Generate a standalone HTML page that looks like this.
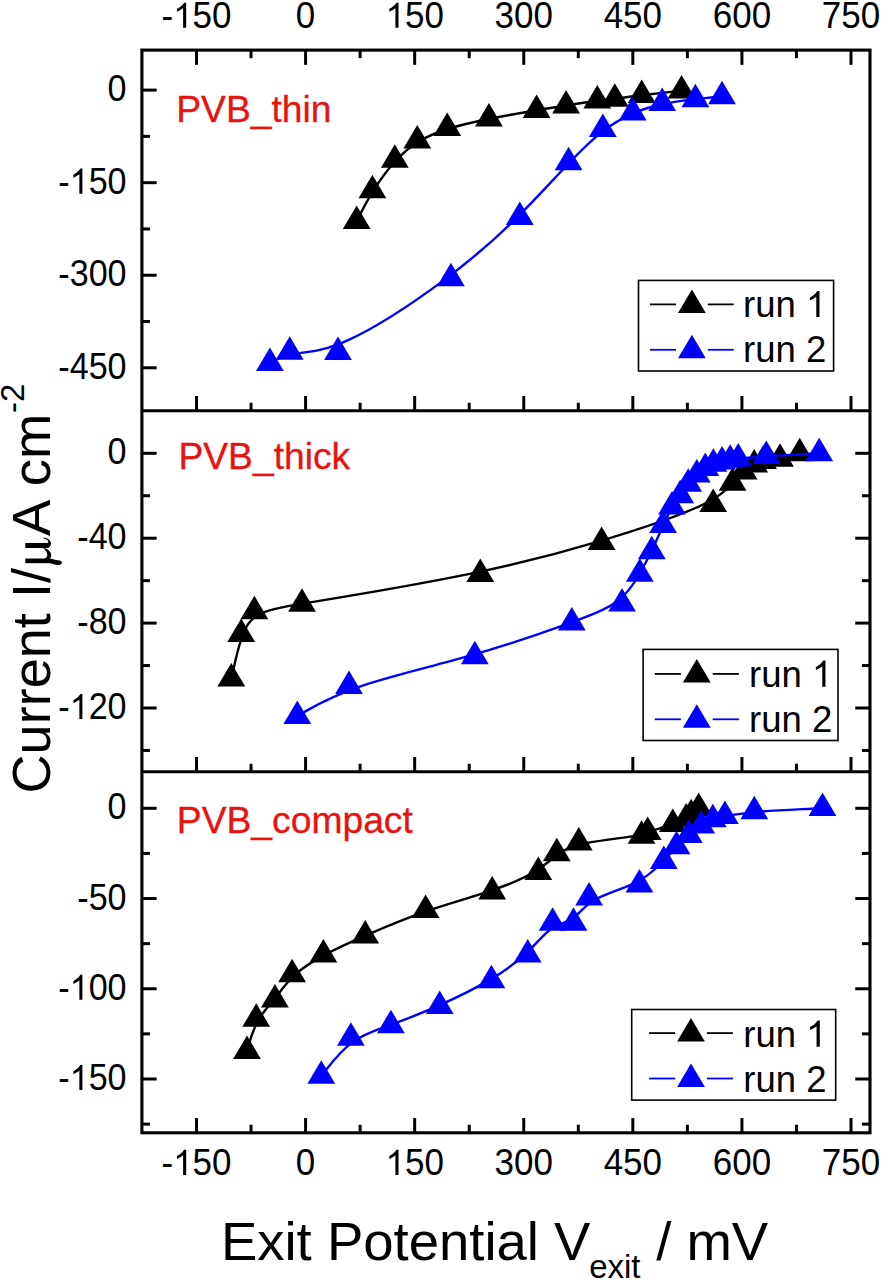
<!DOCTYPE html>
<html>
<head>
<meta charset="utf-8">
<title>Current vs Exit Potential</title>
<style>
html, body { margin: 0; padding: 0; background: #fff; }
body { width: 882px; height: 1280px; overflow: hidden; font-family: "Liberation Sans", sans-serif; }
svg { display: block; }
svg text { font-family: "Liberation Sans", sans-serif; }
</style>
</head>
<body>
<svg width="882" height="1280" viewBox="0 0 882 1280">
<rect x="0" y="0" width="882" height="1280" fill="#fff"/>
<line x1="196.50" y1="50.10" x2="196.50" y2="64.85" stroke="#000" stroke-width="3.0"/>
<line x1="305.58" y1="50.10" x2="305.58" y2="64.85" stroke="#000" stroke-width="3.0"/>
<line x1="414.67" y1="50.10" x2="414.67" y2="64.85" stroke="#000" stroke-width="3.0"/>
<line x1="523.75" y1="50.10" x2="523.75" y2="64.85" stroke="#000" stroke-width="3.0"/>
<line x1="632.83" y1="50.10" x2="632.83" y2="64.85" stroke="#000" stroke-width="3.0"/>
<line x1="741.92" y1="50.10" x2="741.92" y2="64.85" stroke="#000" stroke-width="3.0"/>
<line x1="851.00" y1="50.10" x2="851.00" y2="64.85" stroke="#000" stroke-width="3.0"/>
<line x1="251.04" y1="50.10" x2="251.04" y2="58.15" stroke="#000" stroke-width="3.0"/>
<line x1="360.12" y1="50.10" x2="360.12" y2="58.15" stroke="#000" stroke-width="3.0"/>
<line x1="469.21" y1="50.10" x2="469.21" y2="58.15" stroke="#000" stroke-width="3.0"/>
<line x1="578.29" y1="50.10" x2="578.29" y2="58.15" stroke="#000" stroke-width="3.0"/>
<line x1="687.38" y1="50.10" x2="687.38" y2="58.15" stroke="#000" stroke-width="3.0"/>
<line x1="796.46" y1="50.10" x2="796.46" y2="58.15" stroke="#000" stroke-width="3.0"/>
<line x1="196.50" y1="410.80" x2="196.50" y2="396.05" stroke="#000" stroke-width="3.0"/>
<line x1="305.58" y1="410.80" x2="305.58" y2="396.05" stroke="#000" stroke-width="3.0"/>
<line x1="414.67" y1="410.80" x2="414.67" y2="396.05" stroke="#000" stroke-width="3.0"/>
<line x1="523.75" y1="410.80" x2="523.75" y2="396.05" stroke="#000" stroke-width="3.0"/>
<line x1="632.83" y1="410.80" x2="632.83" y2="396.05" stroke="#000" stroke-width="3.0"/>
<line x1="741.92" y1="410.80" x2="741.92" y2="396.05" stroke="#000" stroke-width="3.0"/>
<line x1="851.00" y1="410.80" x2="851.00" y2="396.05" stroke="#000" stroke-width="3.0"/>
<line x1="251.04" y1="410.80" x2="251.04" y2="402.75" stroke="#000" stroke-width="3.0"/>
<line x1="360.12" y1="410.80" x2="360.12" y2="402.75" stroke="#000" stroke-width="3.0"/>
<line x1="469.21" y1="410.80" x2="469.21" y2="402.75" stroke="#000" stroke-width="3.0"/>
<line x1="578.29" y1="410.80" x2="578.29" y2="402.75" stroke="#000" stroke-width="3.0"/>
<line x1="687.38" y1="410.80" x2="687.38" y2="402.75" stroke="#000" stroke-width="3.0"/>
<line x1="796.46" y1="410.80" x2="796.46" y2="402.75" stroke="#000" stroke-width="3.0"/>
<line x1="196.50" y1="771.80" x2="196.50" y2="757.05" stroke="#000" stroke-width="3.0"/>
<line x1="305.58" y1="771.80" x2="305.58" y2="757.05" stroke="#000" stroke-width="3.0"/>
<line x1="414.67" y1="771.80" x2="414.67" y2="757.05" stroke="#000" stroke-width="3.0"/>
<line x1="523.75" y1="771.80" x2="523.75" y2="757.05" stroke="#000" stroke-width="3.0"/>
<line x1="632.83" y1="771.80" x2="632.83" y2="757.05" stroke="#000" stroke-width="3.0"/>
<line x1="741.92" y1="771.80" x2="741.92" y2="757.05" stroke="#000" stroke-width="3.0"/>
<line x1="851.00" y1="771.80" x2="851.00" y2="757.05" stroke="#000" stroke-width="3.0"/>
<line x1="251.04" y1="771.80" x2="251.04" y2="763.75" stroke="#000" stroke-width="3.0"/>
<line x1="360.12" y1="771.80" x2="360.12" y2="763.75" stroke="#000" stroke-width="3.0"/>
<line x1="469.21" y1="771.80" x2="469.21" y2="763.75" stroke="#000" stroke-width="3.0"/>
<line x1="578.29" y1="771.80" x2="578.29" y2="763.75" stroke="#000" stroke-width="3.0"/>
<line x1="687.38" y1="771.80" x2="687.38" y2="763.75" stroke="#000" stroke-width="3.0"/>
<line x1="796.46" y1="771.80" x2="796.46" y2="763.75" stroke="#000" stroke-width="3.0"/>
<line x1="196.50" y1="1132.80" x2="196.50" y2="1118.05" stroke="#000" stroke-width="3.0"/>
<line x1="305.58" y1="1132.80" x2="305.58" y2="1118.05" stroke="#000" stroke-width="3.0"/>
<line x1="414.67" y1="1132.80" x2="414.67" y2="1118.05" stroke="#000" stroke-width="3.0"/>
<line x1="523.75" y1="1132.80" x2="523.75" y2="1118.05" stroke="#000" stroke-width="3.0"/>
<line x1="632.83" y1="1132.80" x2="632.83" y2="1118.05" stroke="#000" stroke-width="3.0"/>
<line x1="741.92" y1="1132.80" x2="741.92" y2="1118.05" stroke="#000" stroke-width="3.0"/>
<line x1="851.00" y1="1132.80" x2="851.00" y2="1118.05" stroke="#000" stroke-width="3.0"/>
<line x1="251.04" y1="1132.80" x2="251.04" y2="1124.75" stroke="#000" stroke-width="3.0"/>
<line x1="360.12" y1="1132.80" x2="360.12" y2="1124.75" stroke="#000" stroke-width="3.0"/>
<line x1="469.21" y1="1132.80" x2="469.21" y2="1124.75" stroke="#000" stroke-width="3.0"/>
<line x1="578.29" y1="1132.80" x2="578.29" y2="1124.75" stroke="#000" stroke-width="3.0"/>
<line x1="687.38" y1="1132.80" x2="687.38" y2="1124.75" stroke="#000" stroke-width="3.0"/>
<line x1="796.46" y1="1132.80" x2="796.46" y2="1124.75" stroke="#000" stroke-width="3.0"/>
<line x1="141.90" y1="90.10" x2="156.65" y2="90.10" stroke="#000" stroke-width="3.0"/>
<g transform="translate(126.60 101.10) scale(0.975 1)"><text transform="translate(-19.47 0) scale(1 1.04)" font-size="35" fill="#000" xml:space="preserve">0</text></g>
<line x1="141.90" y1="182.67" x2="156.65" y2="182.67" stroke="#000" stroke-width="3.0"/>
<g transform="translate(126.60 193.67) scale(0.975 1)"><text transform="translate(-70.05 0) scale(1 1.04)" font-size="35" fill="#000" xml:space="preserve">-</text><path transform="translate(-58.40 0) scale(0.01709 -0.01709)" d="M763 0H583V1147C520 1087 330 975 223 930V1104C380 1178 570 1330 644 1466H763Z" fill="#000"/><text transform="translate(-38.93 0) scale(1 1.04)" font-size="35" fill="#000" xml:space="preserve">50</text></g>
<line x1="141.90" y1="275.23" x2="156.65" y2="275.23" stroke="#000" stroke-width="3.0"/>
<g transform="translate(126.60 286.23) scale(0.975 1)"><text transform="translate(-70.05 0) scale(1 1.04)" font-size="35" fill="#000" xml:space="preserve">-300</text></g>
<line x1="141.90" y1="367.80" x2="156.65" y2="367.80" stroke="#000" stroke-width="3.0"/>
<g transform="translate(126.60 378.80) scale(0.975 1)"><text transform="translate(-70.05 0) scale(1 1.04)" font-size="35" fill="#000" xml:space="preserve">-450</text></g>
<line x1="141.90" y1="136.38" x2="149.95" y2="136.38" stroke="#000" stroke-width="3.0"/>
<line x1="141.90" y1="228.95" x2="149.95" y2="228.95" stroke="#000" stroke-width="3.0"/>
<line x1="141.90" y1="321.52" x2="149.95" y2="321.52" stroke="#000" stroke-width="3.0"/>
<line x1="141.90" y1="453.30" x2="156.65" y2="453.30" stroke="#000" stroke-width="3.0"/>
<line x1="870.00" y1="453.30" x2="855.25" y2="453.30" stroke="#000" stroke-width="3.0"/>
<g transform="translate(126.60 464.30) scale(0.975 1)"><text transform="translate(-19.47 0) scale(1 1.04)" font-size="35" fill="#000" xml:space="preserve">0</text></g>
<line x1="141.90" y1="538.20" x2="156.65" y2="538.20" stroke="#000" stroke-width="3.0"/>
<line x1="870.00" y1="538.20" x2="855.25" y2="538.20" stroke="#000" stroke-width="3.0"/>
<g transform="translate(126.60 549.20) scale(0.975 1)"><text transform="translate(-50.59 0) scale(1 1.04)" font-size="35" fill="#000" xml:space="preserve">-40</text></g>
<line x1="141.90" y1="623.10" x2="156.65" y2="623.10" stroke="#000" stroke-width="3.0"/>
<line x1="870.00" y1="623.10" x2="855.25" y2="623.10" stroke="#000" stroke-width="3.0"/>
<g transform="translate(126.60 634.10) scale(0.975 1)"><text transform="translate(-50.59 0) scale(1 1.04)" font-size="35" fill="#000" xml:space="preserve">-80</text></g>
<line x1="141.90" y1="708.00" x2="156.65" y2="708.00" stroke="#000" stroke-width="3.0"/>
<line x1="870.00" y1="708.00" x2="855.25" y2="708.00" stroke="#000" stroke-width="3.0"/>
<g transform="translate(126.60 719.00) scale(0.975 1)"><text transform="translate(-70.05 0) scale(1 1.04)" font-size="35" fill="#000" xml:space="preserve">-</text><path transform="translate(-58.40 0) scale(0.01709 -0.01709)" d="M763 0H583V1147C520 1087 330 975 223 930V1104C380 1178 570 1330 644 1466H763Z" fill="#000"/><text transform="translate(-38.93 0) scale(1 1.04)" font-size="35" fill="#000" xml:space="preserve">20</text></g>
<line x1="141.90" y1="495.75" x2="149.95" y2="495.75" stroke="#000" stroke-width="3.0"/>
<line x1="870.00" y1="495.75" x2="861.95" y2="495.75" stroke="#000" stroke-width="3.0"/>
<line x1="141.90" y1="580.65" x2="149.95" y2="580.65" stroke="#000" stroke-width="3.0"/>
<line x1="870.00" y1="580.65" x2="861.95" y2="580.65" stroke="#000" stroke-width="3.0"/>
<line x1="141.90" y1="665.55" x2="149.95" y2="665.55" stroke="#000" stroke-width="3.0"/>
<line x1="870.00" y1="665.55" x2="861.95" y2="665.55" stroke="#000" stroke-width="3.0"/>
<line x1="141.90" y1="750.45" x2="149.95" y2="750.45" stroke="#000" stroke-width="3.0"/>
<line x1="870.00" y1="750.45" x2="861.95" y2="750.45" stroke="#000" stroke-width="3.0"/>
<line x1="141.90" y1="808.30" x2="156.65" y2="808.30" stroke="#000" stroke-width="3.0"/>
<line x1="870.00" y1="808.30" x2="855.25" y2="808.30" stroke="#000" stroke-width="3.0"/>
<g transform="translate(126.60 819.30) scale(0.975 1)"><text transform="translate(-19.47 0) scale(1 1.04)" font-size="35" fill="#000" xml:space="preserve">0</text></g>
<line x1="141.90" y1="898.53" x2="156.65" y2="898.53" stroke="#000" stroke-width="3.0"/>
<line x1="870.00" y1="898.53" x2="855.25" y2="898.53" stroke="#000" stroke-width="3.0"/>
<g transform="translate(126.60 909.53) scale(0.975 1)"><text transform="translate(-50.59 0) scale(1 1.04)" font-size="35" fill="#000" xml:space="preserve">-50</text></g>
<line x1="141.90" y1="988.77" x2="156.65" y2="988.77" stroke="#000" stroke-width="3.0"/>
<line x1="870.00" y1="988.77" x2="855.25" y2="988.77" stroke="#000" stroke-width="3.0"/>
<g transform="translate(126.60 999.77) scale(0.975 1)"><text transform="translate(-70.05 0) scale(1 1.04)" font-size="35" fill="#000" xml:space="preserve">-</text><path transform="translate(-58.40 0) scale(0.01709 -0.01709)" d="M763 0H583V1147C520 1087 330 975 223 930V1104C380 1178 570 1330 644 1466H763Z" fill="#000"/><text transform="translate(-38.93 0) scale(1 1.04)" font-size="35" fill="#000" xml:space="preserve">00</text></g>
<line x1="141.90" y1="1079.00" x2="156.65" y2="1079.00" stroke="#000" stroke-width="3.0"/>
<line x1="870.00" y1="1079.00" x2="855.25" y2="1079.00" stroke="#000" stroke-width="3.0"/>
<g transform="translate(126.60 1090.00) scale(0.975 1)"><text transform="translate(-70.05 0) scale(1 1.04)" font-size="35" fill="#000" xml:space="preserve">-</text><path transform="translate(-58.40 0) scale(0.01709 -0.01709)" d="M763 0H583V1147C520 1087 330 975 223 930V1104C380 1178 570 1330 644 1466H763Z" fill="#000"/><text transform="translate(-38.93 0) scale(1 1.04)" font-size="35" fill="#000" xml:space="preserve">50</text></g>
<line x1="141.90" y1="853.42" x2="149.95" y2="853.42" stroke="#000" stroke-width="3.0"/>
<line x1="870.00" y1="853.42" x2="861.95" y2="853.42" stroke="#000" stroke-width="3.0"/>
<line x1="141.90" y1="943.65" x2="149.95" y2="943.65" stroke="#000" stroke-width="3.0"/>
<line x1="870.00" y1="943.65" x2="861.95" y2="943.65" stroke="#000" stroke-width="3.0"/>
<line x1="141.90" y1="1033.88" x2="149.95" y2="1033.88" stroke="#000" stroke-width="3.0"/>
<line x1="870.00" y1="1033.88" x2="861.95" y2="1033.88" stroke="#000" stroke-width="3.0"/>
<line x1="141.90" y1="1124.12" x2="149.95" y2="1124.12" stroke="#000" stroke-width="3.0"/>
<line x1="870.00" y1="1124.12" x2="861.95" y2="1124.12" stroke="#000" stroke-width="3.0"/>
<g transform="translate(196.50 27.70) scale(1.0 1)"><text transform="translate(-35.03 0) scale(1 1.04)" font-size="35" fill="#000" xml:space="preserve">-</text><path transform="translate(-23.37 0) scale(0.01709 -0.01709)" d="M763 0H583V1147C520 1087 330 975 223 930V1104C380 1178 570 1330 644 1466H763Z" fill="#000"/><text transform="translate(-3.91 0) scale(1 1.04)" font-size="35" fill="#000" xml:space="preserve">50</text></g>
<g transform="translate(196.50 1174.90) scale(1.0 1)"><text transform="translate(-35.03 0) scale(1 1.04)" font-size="35" fill="#000" xml:space="preserve">-</text><path transform="translate(-23.37 0) scale(0.01709 -0.01709)" d="M763 0H583V1147C520 1087 330 975 223 930V1104C380 1178 570 1330 644 1466H763Z" fill="#000"/><text transform="translate(-3.91 0) scale(1 1.04)" font-size="35" fill="#000" xml:space="preserve">50</text></g>
<g transform="translate(305.58 27.70) scale(1.0 1)"><text transform="translate(-9.73 0) scale(1 1.04)" font-size="35" fill="#000" xml:space="preserve">0</text></g>
<g transform="translate(305.58 1174.90) scale(1.0 1)"><text transform="translate(-9.73 0) scale(1 1.04)" font-size="35" fill="#000" xml:space="preserve">0</text></g>
<g transform="translate(414.67 27.70) scale(1.0 1)"><path transform="translate(-29.20 0) scale(0.01709 -0.01709)" d="M763 0H583V1147C520 1087 330 975 223 930V1104C380 1178 570 1330 644 1466H763Z" fill="#000"/><text transform="translate(-9.73 0) scale(1 1.04)" font-size="35" fill="#000" xml:space="preserve">50</text></g>
<g transform="translate(414.67 1174.90) scale(1.0 1)"><path transform="translate(-29.20 0) scale(0.01709 -0.01709)" d="M763 0H583V1147C520 1087 330 975 223 930V1104C380 1178 570 1330 644 1466H763Z" fill="#000"/><text transform="translate(-9.73 0) scale(1 1.04)" font-size="35" fill="#000" xml:space="preserve">50</text></g>
<g transform="translate(523.75 27.70) scale(1.0 1)"><text transform="translate(-29.20 0) scale(1 1.04)" font-size="35" fill="#000" xml:space="preserve">300</text></g>
<g transform="translate(523.75 1174.90) scale(1.0 1)"><text transform="translate(-29.20 0) scale(1 1.04)" font-size="35" fill="#000" xml:space="preserve">300</text></g>
<g transform="translate(632.83 27.70) scale(1.0 1)"><text transform="translate(-29.20 0) scale(1 1.04)" font-size="35" fill="#000" xml:space="preserve">450</text></g>
<g transform="translate(632.83 1174.90) scale(1.0 1)"><text transform="translate(-29.20 0) scale(1 1.04)" font-size="35" fill="#000" xml:space="preserve">450</text></g>
<g transform="translate(741.92 27.70) scale(1.0 1)"><text transform="translate(-29.20 0) scale(1 1.04)" font-size="35" fill="#000" xml:space="preserve">600</text></g>
<g transform="translate(741.92 1174.90) scale(1.0 1)"><text transform="translate(-29.20 0) scale(1 1.04)" font-size="35" fill="#000" xml:space="preserve">600</text></g>
<g transform="translate(851.00 27.70) scale(1.0 1)"><text transform="translate(-29.20 0) scale(1 1.04)" font-size="35" fill="#000" xml:space="preserve">750</text></g>
<g transform="translate(851.00 1174.90) scale(1.0 1)"><text transform="translate(-29.20 0) scale(1 1.04)" font-size="35" fill="#000" xml:space="preserve">750</text></g>
<rect x="141.9" y="50.1" width="728.10" height="1082.70" fill="none" stroke="#000" stroke-width="3.1"/>
<line x1="141.9" y1="410.8" x2="870.0" y2="410.8" stroke="#000" stroke-width="3.1"/>
<line x1="141.9" y1="771.8" x2="870.0" y2="771.8" stroke="#000" stroke-width="3.1"/>
<path d="M356.7 221.0C356.7 221.0 356.7 221.0 359.3 215.9C361.9 210.8 367.2 200.5 373.5 190.3C379.9 180.2 387.3 170.0 394.8 161.7C402.3 153.4 409.8 147.0 418.5 141.7C427.3 136.3 437.2 132.2 449.2 128.5C461.1 124.8 475.0 121.7 489.9 118.7C504.8 115.7 520.7 113.0 533.6 110.8C546.4 108.6 556.3 107.1 566.4 105.5C576.5 103.8 586.9 102.2 595.0 101.0C603.1 99.9 609.0 99.4 616.4 98.5C623.8 97.6 632.7 96.3 643.9 95.0C655.0 93.6 668.3 92.1 675.0 91.4C681.6 90.6 681.6 90.6 681.6 90.6" fill="none" stroke="#000" stroke-width="2.4"/>
<path d="M356.7 205.4L370.6 228.9L342.8 228.9Z" fill="#000"/>
<path d="M372.4 174.7L386.3 198.2L358.5 198.2Z" fill="#000"/>
<path d="M394.8 144.3L408.7 167.8L380.9 167.8Z" fill="#000"/>
<path d="M417.3 124.9L431.2 148.4L403.4 148.4Z" fill="#000"/>
<path d="M447.2 112.4L461.1 135.9L433.3 135.9Z" fill="#000"/>
<path d="M488.9 102.9L502.8 126.4L475.0 126.4Z" fill="#000"/>
<path d="M536.6 94.6L550.5 118.1L522.7 118.1Z" fill="#000"/>
<path d="M566.1 89.9L580.0 113.4L552.2 113.4Z" fill="#000"/>
<path d="M597.3 84.9L611.2 108.4L583.4 108.4Z" fill="#000"/>
<path d="M614.8 83.2L628.7 106.7L600.9 106.7Z" fill="#000"/>
<path d="M641.7 79.5L655.6 103.0L627.8 103.0Z" fill="#000"/>
<path d="M681.6 75.0L695.5 98.5L667.7 98.5Z" fill="#000"/>
<path d="M269.9 363.1C269.9 363.1 269.9 363.1 273.2 361.2C276.5 359.4 283.1 355.6 294.4 353.8C305.8 352.0 321.9 352.1 348.8 339.8C375.6 327.6 413.3 302.9 443.6 280.4C473.9 257.9 496.8 237.4 516.4 218.1C536.1 198.8 552.3 180.6 566.2 166.0C580.0 151.3 591.4 140.3 602.1 131.9C612.8 123.6 622.7 118.1 632.6 113.7C642.5 109.3 652.4 106.2 662.8 104.0C673.3 101.8 684.3 100.5 694.3 99.4C704.3 98.3 713.1 97.3 717.6 96.8C722.0 96.3 722.0 96.3 722.0 96.3" fill="none" stroke="#0000ff" stroke-width="2.4"/>
<path d="M269.9 347.5L283.8 371.0L256.0 371.0Z" fill="#0000ff"/>
<path d="M289.7 336.3L303.6 359.8L275.8 359.8Z" fill="#0000ff"/>
<path d="M338.0 336.6L351.9 360.1L324.1 360.1Z" fill="#0000ff"/>
<path d="M450.9 262.7L464.8 286.2L437.0 286.2Z" fill="#0000ff"/>
<path d="M519.8 201.4L533.7 224.9L505.9 224.9Z" fill="#0000ff"/>
<path d="M568.6 146.8L582.5 170.3L554.7 170.3Z" fill="#0000ff"/>
<path d="M602.8 113.6L616.7 137.1L588.9 137.1Z" fill="#0000ff"/>
<path d="M632.7 96.9L646.6 120.4L618.8 120.4Z" fill="#0000ff"/>
<path d="M662.2 87.4L676.1 110.9L648.3 110.9Z" fill="#0000ff"/>
<path d="M695.4 83.7L709.3 107.2L681.5 107.2Z" fill="#0000ff"/>
<path d="M722.0 80.7L735.9 104.2L708.1 104.2Z" fill="#0000ff"/>
<path d="M231.3 678.7C231.3 678.7 231.3 678.7 233.0 671.3C234.6 663.8 237.9 649.0 241.8 637.7C245.6 626.5 250.0 618.9 260.1 613.9C270.3 608.8 286.1 606.3 323.8 600.1C361.4 593.9 420.9 583.9 470.8 573.6C520.7 563.4 561.2 552.7 600.0 541.1C638.8 529.5 676.0 516.8 697.8 507.0C719.7 497.1 726.1 489.9 731.2 484.5C736.3 479.1 739.9 475.3 743.5 472.3C747.1 469.3 750.7 466.9 753.9 465.2C757.1 463.4 760.1 462.3 764.4 461.3C768.7 460.4 774.3 459.6 780.4 458.4C786.6 457.1 793.1 455.2 796.4 454.3C799.7 453.4 799.7 453.4 799.7 453.4" fill="none" stroke="#000" stroke-width="2.4"/>
<path d="M231.3 663.1L245.2 686.6L217.4 686.6Z" fill="#000"/>
<path d="M241.2 618.5L255.1 642.0L227.3 642.0Z" fill="#000"/>
<path d="M254.4 595.7L268.3 619.2L240.5 619.2Z" fill="#000"/>
<path d="M302.0 588.2L315.9 611.7L288.1 611.7Z" fill="#000"/>
<path d="M480.3 558.4L494.2 581.9L466.4 581.9Z" fill="#000"/>
<path d="M601.6 526.5L615.5 550.0L587.7 550.0Z" fill="#000"/>
<path d="M713.2 488.6L727.1 512.1L699.3 512.1Z" fill="#000"/>
<path d="M732.6 467.2L746.5 490.7L718.7 490.7Z" fill="#000"/>
<path d="M743.6 456.0L757.5 479.5L729.7 479.5Z" fill="#000"/>
<path d="M754.2 449.0L768.1 472.5L740.3 472.5Z" fill="#000"/>
<path d="M763.0 445.5L776.9 469.0L749.1 469.0Z" fill="#000"/>
<path d="M780.0 443.3L793.9 466.8L766.1 466.8Z" fill="#000"/>
<path d="M799.7 437.8L813.6 461.3L785.8 461.3Z" fill="#000"/>
<path d="M297.3 716.1C297.3 716.1 297.3 716.1 305.9 711.1C314.5 706.1 331.8 696.1 361.3 686.1C390.9 676.2 432.9 666.3 470.0 655.7C507.1 645.1 539.5 633.9 564.0 625.1C588.5 616.2 605.3 609.9 616.6 601.7C627.9 593.6 633.9 583.7 638.8 575.0C643.8 566.3 647.8 558.8 651.7 550.7C655.6 542.6 659.3 533.8 662.7 526.4C666.1 518.9 669.0 512.8 671.9 507.8C674.7 502.9 677.5 499.1 680.2 495.4C682.9 491.6 685.5 487.7 688.3 484.3C691.1 480.8 693.9 477.7 696.8 475.1C699.6 472.4 702.5 470.2 705.2 468.4C708.0 466.6 710.7 465.2 713.5 464.1C716.3 463.1 719.1 462.3 721.9 461.7C724.7 461.0 727.5 460.5 730.2 460.0C732.9 459.5 735.5 459.0 741.6 458.4C747.6 457.7 756.9 456.9 770.4 456.0C783.9 455.1 801.6 454.3 810.4 453.8C819.2 453.4 819.2 453.4 819.2 453.4" fill="none" stroke="#0000ff" stroke-width="2.4"/>
<path d="M297.3 700.5L311.2 724.0L283.4 724.0Z" fill="#0000ff"/>
<path d="M349.0 670.5L362.9 694.0L335.1 694.0Z" fill="#0000ff"/>
<path d="M474.8 640.8L488.7 664.3L460.9 664.3Z" fill="#0000ff"/>
<path d="M571.8 607.0L585.7 630.5L557.9 630.5Z" fill="#0000ff"/>
<path d="M622.0 587.9L635.9 611.4L608.1 611.4Z" fill="#0000ff"/>
<path d="M639.8 558.2L653.7 581.7L625.9 581.7Z" fill="#0000ff"/>
<path d="M651.8 535.7L665.7 559.2L637.9 559.2Z" fill="#0000ff"/>
<path d="M663.1 509.5L677.0 533.0L649.2 533.0Z" fill="#0000ff"/>
<path d="M672.0 491.0L685.9 514.5L658.1 514.5Z" fill="#0000ff"/>
<path d="M680.2 479.8L694.1 503.3L666.3 503.3Z" fill="#0000ff"/>
<path d="M688.2 468.3L702.1 491.8L674.3 491.8Z" fill="#0000ff"/>
<path d="M696.8 459.0L710.7 482.5L682.9 482.5Z" fill="#0000ff"/>
<path d="M705.3 452.4L719.2 475.9L691.4 475.9Z" fill="#0000ff"/>
<path d="M713.4 448.2L727.3 471.7L699.5 471.7Z" fill="#0000ff"/>
<path d="M722.0 446.0L735.9 469.5L708.1 469.5Z" fill="#0000ff"/>
<path d="M730.2 444.3L744.1 467.8L716.3 467.8Z" fill="#0000ff"/>
<path d="M738.2 443.0L752.1 466.5L724.3 466.5Z" fill="#0000ff"/>
<path d="M766.3 440.4L780.2 463.9L752.4 463.9Z" fill="#0000ff"/>
<path d="M819.2 437.8L833.1 461.3L805.3 461.3Z" fill="#0000ff"/>
<path d="M247.0 1051.0C247.0 1051.0 247.0 1051.0 248.5 1045.6C250.1 1040.3 253.1 1029.6 257.8 1021.1C262.4 1012.5 268.7 1006.1 274.7 998.7C280.6 991.2 286.4 982.8 294.5 975.2C302.5 967.7 313.0 961.1 325.1 954.6C337.3 948.2 351.3 941.8 368.3 934.4C385.3 927.0 405.5 918.6 426.6 911.2C447.8 903.9 470.0 897.8 488.8 891.4C507.6 885.1 522.9 878.7 533.7 872.3C544.5 865.9 550.6 859.6 557.4 854.7C564.1 849.7 571.5 846.2 585.6 843.3C599.7 840.4 620.7 838.1 632.1 836.4C643.6 834.6 645.7 833.3 650.9 831.3C656.1 829.4 664.4 826.7 670.8 824.5C677.3 822.3 681.7 820.4 684.8 818.8C687.9 817.2 689.5 815.7 691.6 814.0C693.7 812.2 696.2 810.1 697.4 809.1C698.7 808.0 698.7 808.0 698.7 808.0" fill="none" stroke="#000" stroke-width="2.4"/>
<path d="M247.0 1035.4L260.9 1058.9L233.1 1058.9Z" fill="#000"/>
<path d="M256.2 1003.3L270.1 1026.8L242.3 1026.8Z" fill="#000"/>
<path d="M274.9 984.1L288.8 1007.6L261.0 1007.6Z" fill="#000"/>
<path d="M292.1 958.7L306.0 982.2L278.2 982.2Z" fill="#000"/>
<path d="M323.4 938.9L337.3 962.4L309.5 962.4Z" fill="#000"/>
<path d="M365.2 919.9L379.1 943.4L351.3 943.4Z" fill="#000"/>
<path d="M425.6 894.5L439.5 918.0L411.7 918.0Z" fill="#000"/>
<path d="M492.2 876.0L506.1 899.5L478.3 899.5Z" fill="#000"/>
<path d="M538.3 856.6L552.2 880.1L524.4 880.1Z" fill="#000"/>
<path d="M556.8 837.7L570.7 861.2L542.9 861.2Z" fill="#000"/>
<path d="M578.8 827.0L592.7 850.5L564.9 850.5Z" fill="#000"/>
<path d="M641.6 820.3L655.5 843.8L627.7 843.8Z" fill="#000"/>
<path d="M647.7 816.4L661.6 839.9L633.8 839.9Z" fill="#000"/>
<path d="M672.8 808.5L686.7 832.0L658.9 832.0Z" fill="#000"/>
<path d="M686.2 803.0L700.1 826.5L672.3 826.5Z" fill="#000"/>
<path d="M691.2 798.7L705.1 822.2L677.3 822.2Z" fill="#000"/>
<path d="M698.7 792.4L712.6 815.9L684.8 815.9Z" fill="#000"/>
<path d="M321.3 1075.9C321.3 1075.9 321.3 1075.9 326.2 1069.6C331.2 1063.2 341.0 1050.6 352.6 1042.1C364.2 1033.7 377.6 1029.5 392.4 1024.2C407.2 1018.9 423.4 1012.4 440.2 1004.9C456.9 997.5 474.2 988.9 488.8 980.4C503.5 971.8 515.6 963.3 525.8 953.7C536.0 944.1 544.3 933.5 551.9 928.2C559.6 922.9 566.5 922.9 572.6 918.7C578.7 914.5 583.9 906.0 594.9 899.7C605.9 893.3 622.6 889.0 635.1 882.9C647.5 876.8 655.7 868.9 661.9 862.5C668.0 856.1 672.3 851.3 676.4 847.0C680.6 842.7 684.7 838.9 688.8 835.5C692.9 832.0 697.1 828.9 701.1 826.2C705.1 823.6 708.9 821.5 712.9 819.9C716.8 818.3 720.9 817.2 727.8 815.9C734.7 814.5 744.5 813.0 760.8 811.6C777.0 810.3 799.8 809.3 811.1 808.7C822.5 808.2 822.5 808.2 822.5 808.2" fill="none" stroke="#0000ff" stroke-width="2.4"/>
<path d="M321.3 1060.3L335.2 1083.8L307.4 1083.8Z" fill="#0000ff"/>
<path d="M350.9 1022.3L364.8 1045.8L337.0 1045.8Z" fill="#0000ff"/>
<path d="M390.9 1009.7L404.8 1033.2L377.0 1033.2Z" fill="#0000ff"/>
<path d="M439.7 990.4L453.6 1013.9L425.8 1013.9Z" fill="#0000ff"/>
<path d="M491.4 964.8L505.3 988.3L477.5 988.3Z" fill="#0000ff"/>
<path d="M527.7 939.1L541.6 962.6L513.8 962.6Z" fill="#0000ff"/>
<path d="M552.6 907.3L566.5 930.8L538.7 930.8Z" fill="#0000ff"/>
<path d="M573.5 907.3L587.4 930.8L559.6 930.8Z" fill="#0000ff"/>
<path d="M589.1 882.0L603.0 905.5L575.2 905.5Z" fill="#0000ff"/>
<path d="M639.4 869.1L653.3 892.6L625.5 892.6Z" fill="#0000ff"/>
<path d="M663.8 845.4L677.7 868.9L649.9 868.9Z" fill="#0000ff"/>
<path d="M676.5 830.8L690.4 854.3L662.6 854.3Z" fill="#0000ff"/>
<path d="M688.8 819.6L702.7 843.1L674.9 843.1Z" fill="#0000ff"/>
<path d="M701.2 810.1L715.1 833.6L687.3 833.6Z" fill="#0000ff"/>
<path d="M712.8 803.8L726.7 827.3L698.9 827.3Z" fill="#0000ff"/>
<path d="M724.9 800.5L738.8 824.0L711.0 824.0Z" fill="#0000ff"/>
<path d="M754.3 795.8L768.2 819.3L740.4 819.3Z" fill="#0000ff"/>
<path d="M822.5 792.6L836.4 816.1L808.6 816.1Z" fill="#0000ff"/>
<text x="176.2" y="121.7" font-size="37.25" fill="#e8120f" stroke="#e8120f" stroke-width="0.3">PVB_thin</text>
<text x="178.4" y="469.4" font-size="37.25" fill="#e8120f" stroke="#e8120f" stroke-width="0.3">PVB_thick</text>
<text x="176.8" y="832.9" font-size="37.25" fill="#e8120f" stroke="#e8120f" stroke-width="0.3">PVB_compact</text>
<rect x="638.5" y="280.4" width="195.1" height="90.6" fill="#fff" stroke="#000" stroke-width="1.6"/>
<line x1="650.0" y1="304.4" x2="676.0" y2="304.4" stroke="#000" stroke-width="1.8"/>
<line x1="707.8" y1="304.4" x2="733.7" y2="304.4" stroke="#000" stroke-width="1.8"/>
<path d="M691.9 289.4L705.8 312.9L678.0 312.9Z" fill="#000"/>
<line x1="650.0" y1="349.8" x2="676.0" y2="349.8" stroke="#0000ff" stroke-width="1.8"/>
<line x1="707.8" y1="349.8" x2="733.7" y2="349.8" stroke="#0000ff" stroke-width="1.8"/>
<path d="M691.9 334.8L705.8 358.3L678.0 358.3Z" fill="#0000ff"/>
<g transform="translate(743.00 317.10) scale(1.0 1)"><text transform="translate(0.00 0) scale(1 1.0)" font-size="36.5" fill="#000" xml:space="preserve">run </text><path transform="translate(62.89 0) scale(0.01782 -0.01782)" d="M763 0H583V1147C520 1087 330 975 223 930V1104C380 1178 570 1330 644 1466H763Z" fill="#000"/></g>
<g transform="translate(743.00 362.30) scale(1.0 1)"><text transform="translate(0.00 0) scale(1 1.0)" font-size="36.5" fill="#000" xml:space="preserve">run 2</text></g>
<rect x="643.1" y="649.4" width="194.9" height="91.1" fill="#fff" stroke="#000" stroke-width="1.6"/>
<line x1="654.8" y1="673.9" x2="680.9" y2="673.9" stroke="#000" stroke-width="1.8"/>
<line x1="712.7" y1="673.9" x2="738.9" y2="673.9" stroke="#000" stroke-width="1.8"/>
<path d="M696.8 658.9L710.7 682.4L682.9 682.4Z" fill="#000"/>
<line x1="654.8" y1="719.3" x2="680.9" y2="719.3" stroke="#0000ff" stroke-width="1.8"/>
<line x1="712.7" y1="719.3" x2="738.9" y2="719.3" stroke="#0000ff" stroke-width="1.8"/>
<path d="M696.8 704.3L710.7 727.8L682.9 727.8Z" fill="#0000ff"/>
<g transform="translate(749.00 686.70) scale(1.0 1)"><text transform="translate(0.00 0) scale(1 1.0)" font-size="36.5" fill="#000" xml:space="preserve">run </text><path transform="translate(62.89 0) scale(0.01782 -0.01782)" d="M763 0H583V1147C520 1087 330 975 223 930V1104C380 1178 570 1330 644 1466H763Z" fill="#000"/></g>
<g transform="translate(749.00 731.80) scale(1.0 1)"><text transform="translate(0.00 0) scale(1 1.0)" font-size="36.5" fill="#000" xml:space="preserve">run 2</text></g>
<rect x="631.7" y="1009.5" width="204.0" height="90.6" fill="#fff" stroke="#000" stroke-width="1.6"/>
<line x1="649.1" y1="1033.1" x2="675.1" y2="1033.1" stroke="#000" stroke-width="1.8"/>
<line x1="706.9" y1="1033.1" x2="732.9" y2="1033.1" stroke="#000" stroke-width="1.8"/>
<path d="M691.0 1018.1L704.9 1041.6L677.1 1041.6Z" fill="#000"/>
<line x1="649.1" y1="1078.5" x2="675.1" y2="1078.5" stroke="#0000ff" stroke-width="1.8"/>
<line x1="706.9" y1="1078.5" x2="732.9" y2="1078.5" stroke="#0000ff" stroke-width="1.8"/>
<path d="M691.0 1063.5L704.9 1087.0L677.1 1087.0Z" fill="#0000ff"/>
<g transform="translate(743.30 1046.70) scale(1.0 1)"><text transform="translate(0.00 0) scale(1 1.0)" font-size="36.5" fill="#000" xml:space="preserve">run </text><path transform="translate(62.89 0) scale(0.01782 -0.01782)" d="M763 0H583V1147C520 1087 330 975 223 930V1104C380 1178 570 1330 644 1466H763Z" fill="#000"/></g>
<g transform="translate(743.30 1091.60) scale(1.0 1)"><text transform="translate(0.00 0) scale(1 1.0)" font-size="36.5" fill="#000" xml:space="preserve">run 2</text></g>
<text x="220.9" y="1259.7" font-size="54.5">Exit Potential V</text>
<text x="589.2" y="1277.9" font-size="33">exit</text>
<text x="656.2" y="1259.7" font-size="54.5">/ mV</text>
<text transform="translate(49.8 793.5) rotate(-90)" font-size="54.1">Current I/</text>
<g fill="#000"><rect x="25.3" y="558.5" width="25" height="4.7"/><path d="M50 558.6C53 559.4 55 560.2 58 560.2C60.5 560.2 62 561.2 62 562.6C62 564 60.5 565 58.5 565C55 565 52 563.2 50 563.2Z"/><rect x="25.3" y="543" width="23" height="5"/><path d="M44 548C48 549 51.2 552 51.2 555C51.2 557 50 558.6 48.5 559.6L44.5 558.7C46.8 557.6 47.6 556 47.2 554C46.8 551.5 45 549.5 43 548Z"/><path d="M43.6 537.4C47.6 537.8 51.2 540.4 51 543.8C50.9 545.8 49.6 547.3 48.3 548L45.5 543.3C47.8 543.4 48.6 542.5 48.2 541.3C47.6 539.8 45.6 538.7 43.6 538.5Z"/></g>
<text transform="translate(49.8 535.9) rotate(-90)" font-size="54.5">A</text>
<text transform="translate(49.8 486.3) rotate(-90)" font-size="54.5">cm</text>
<text transform="translate(23.65 413.0) rotate(-90)" font-size="33">-2</text>
</svg>
</body>
</html>
